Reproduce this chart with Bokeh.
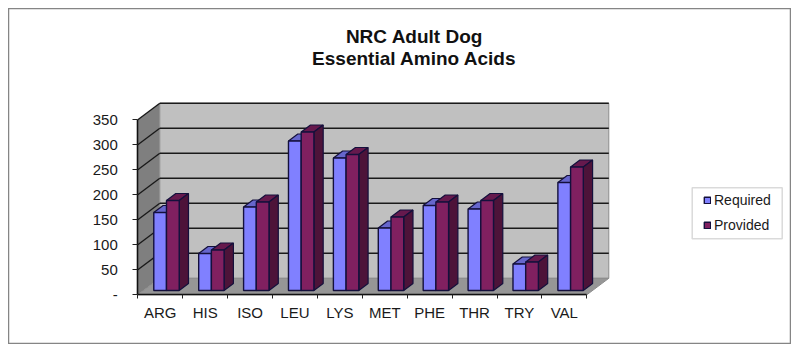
from bokeh.plotting import figure
from bokeh.models import Range1d, FixedTicker, Label, Legend, LegendItem, BoxAnnotation
from bokeh.embed import file_html
from bokeh.resources import INLINE

categories = ["ARG", "HIS", "ISO", "LEU", "LYS", "MET", "PHE", "THR", "TRY", "VAL"]
required = [156, 74, 167, 299, 265, 125, 170, 163, 53, 216]
provided = [180, 81, 177, 317, 272, 147, 177, 180, 57, 247]
y_ticks = [0, 50, 100, 150, 200, 250, 300, 350]
y_labels = {0: "-", 50: "50", 100: "100", 150: "150", 200: "200", 250: "250", 300: "300", 350: "350"}

# 3D projection, in data units
WALL_DX, WALL_DY = 0.49, 33
BAR_DX, BAR_DY = 0.207, 14
BAR_W = 0.283
BAR_X0 = 0.356
BASE = 8.6

FONT = "Liberation Sans"
W, H = 783, 336
PX_X, PX_Y = 44.9, 0.5          # pixels per data unit
ORG_X, ORG_Y = 137.3 - 8, 294.3 - 8   # origin in figure pixels


def dx(page_x):
    return (page_x - 137.3) / PX_X


def dy(page_y):
    return (294.3 - page_y) / PX_Y


p = figure(width=W, height=H, output_backend="svg", toolbar_location=None, tools="",
           x_range=Range1d(-ORG_X / PX_X, (W - ORG_X) / PX_X),
           y_range=Range1d((ORG_Y - H) / PX_Y, ORG_Y / PX_Y),
           min_border=0, min_border_left=0, min_border_right=0,
           min_border_top=0, min_border_bottom=0, margin=(8, 0, 0, 8))
p.outline_line_color = "#858585"
p.outline_line_width = 1.5
p.xgrid.visible = False
p.ygrid.visible = False

n = len(categories)
ymax = y_ticks[-1]

# walls and floor
p.patch([0, 0, WALL_DX, WALL_DX], [0, ymax, ymax + WALL_DY, WALL_DY], fill_color="#7f7f7f", line_color=None)
p.patch([WALL_DX, WALL_DX, n + WALL_DX, n + WALL_DX], [WALL_DY, ymax + WALL_DY, ymax + WALL_DY, WALL_DY],
        fill_color="#c0c0c0", line_color="#8c8c8c", line_width=1)
p.patch([0, n, n + WALL_DX, WALL_DX], [0, 0, WALL_DY, WALL_DY], fill_color="#969696", line_color="#8c8c8c", line_width=1)

# gridlines on back and side wall
grid = y_ticks[1:]
p.segment([WALL_DX] * len(grid), [v + WALL_DY for v in grid], [n + WALL_DX] * len(grid), [v + WALL_DY for v in grid],
          line_color="#1a1a1a", line_width=1.6)
p.segment([0] * len(grid), grid, [WALL_DX] * len(grid), [v + WALL_DY for v in grid],
          line_color="#1a1a1a", line_width=1.4)


def draw_series(values, offset, front, top, side):
    lefts = [i + BAR_X0 + offset * BAR_W for i in range(n)]
    rights = [x + BAR_W for x in lefts]
    tops = [BASE + v for v in values]
    p.patches([[l, r, r + BAR_DX, l + BAR_DX] for l, r in zip(lefts, rights)],
              [[t, t, t + BAR_DY, t + BAR_DY] for t in tops],
              fill_color=top, line_color="#14103c", line_width=1.2)
    p.patches([[r, r + BAR_DX, r + BAR_DX, r] for r in rights],
              [[BASE, BASE + BAR_DY, t + BAR_DY, t] for t in tops],
              fill_color=side, line_color="#14103c", line_width=1.2)
    return p.quad(left=lefts, right=rights, bottom=[BASE] * n, top=tops,
                  fill_color=front, line_color="#14103c", line_width=1.4)


r_req = draw_series(required, 0, "#8080ff", "#6666cc", "#5a5ab0")
r_pro = draw_series(provided, 1, "#802060", "#66194d", "#4d1339")

# axes on the front plane
xa = p.xaxis[0]
xa.fixed_location = 0
xa.bounds = (0, n)
xa.ticker = FixedTicker(ticks=[i + 0.5 for i in range(n)], minor_ticks=list(range(n + 1)))
xa.major_label_overrides = {i + 0.5: c for i, c in enumerate(categories)}
xa.major_tick_in = 0
xa.major_tick_out = 0
xa.minor_tick_in = 0
xa.minor_tick_out = 4
xa.minor_tick_line_color = "#222222"
xa.major_label_standoff = 5
xa.major_label_text_font = FONT
xa.major_label_text_font_size = "15px"
xa.major_label_text_color = "#1a1a1a"
xa.axis_line_color = "#111111"
xa.axis_line_width = 1.6

ya = p.yaxis[0]
ya.fixed_location = 0
ya.bounds = (0, ymax)
ya.ticker = FixedTicker(ticks=y_ticks)
ya.major_label_overrides = y_labels
ya.major_tick_in = 0
ya.major_tick_out = 5
ya.minor_tick_out = 0
ya.minor_tick_in = 0
ya.major_tick_line_color = "#222222"
ya.major_label_standoff = 15
ya.major_label_text_font = FONT
ya.major_label_text_font_size = "15px"
ya.major_label_text_color = "#1a1a1a"
ya.axis_line_color = "#111111"
ya.axis_line_width = 1.6

# title
for text, page_y in (("NRC Adult Dog", 36), ("Essential Amino Acids", 58)):
    p.add_layout(Label(x=dx(414), y=dy(page_y), text=text, text_align="center",
                       text_baseline="middle", text_font=FONT, text_font_style="bold",
                       text_font_size="19px", text_color="#111111"))

# legend
p.add_layout(BoxAnnotation(left=dx(691.7), right=dx(781.7), bottom=dy(238.3), top=dy(187.3),
                           fill_color="white", fill_alpha=1, line_color="#858585", line_width=1.5))
legend = Legend(items=[LegendItem(label="Required", renderers=[r_req]),
                       LegendItem(label="Provided", renderers=[r_pro])],
                location=(703 - 8, H - (238.3 - 8) + 5),
                orientation="vertical", glyph_width=8, glyph_height=8,
                label_text_font=FONT, label_text_font_size="14px", label_text_color="#1a1a1a",
                label_standoff=3, label_height=16, spacing=9, padding=5, margin=0,
                border_line_color=None, background_fill_alpha=0)
p.add_layout(legend)

open("out.html", "w").write(file_html(p, INLINE))
